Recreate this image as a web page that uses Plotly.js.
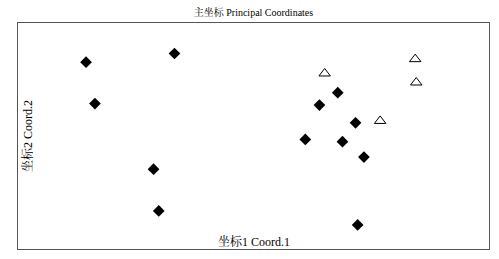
<!DOCTYPE html>
<html>
<head>
<meta charset="utf-8">
<script src="https://cdn.plot.ly/plotly-3.0.1.min.js"></script>
<style>html,body{margin:0;padding:0;background:#fff;}#chart{width:499px;height:259px;}</style>
</head>
<body>
<div id="chart"></div>
<script>
// Group A (filled diamonds)
const groupA_x = [-0.320, -0.151, -0.303, -0.191, -0.181, 0.161, 0.126, 0.195, 0.099, 0.170, 0.211, 0.199];
const groupA_y = [0.196, 0.219, 0.086, -0.088, -0.199, 0.115, 0.082, 0.035, -0.009, -0.015, -0.056, -0.236];
// Group B (open triangles)
const groupB_x = [0.136, 0.309, 0.311, 0.242];
const groupB_y = [0.166, 0.204, 0.142, 0.040];

const titleText = '主坐标 Principal Coordinates';
const xTitle = '坐标1 Coord.1';
const yTitle = '坐标2 Coord.2';

const fontFam = '"Liberation Serif", "Noto Serif CJK SC", "Noto Sans CJK SC", serif';

const traces = [
  {x: groupA_x, y: groupA_y, type: 'scatter', mode: 'markers',
   marker: {symbol: 'diamond', size: 9, color: '#000'}},
  {x: groupB_x, y: groupB_y, type: 'scatter', mode: 'markers',
   marker: {symbol: 'triangle-up-open', size: 10, color: '#000', line: {width: 1, color: '#000'}}}
];

const axisCommon = {showgrid: false, zeroline: false, showticklabels: false, ticks: '',
  showline: true, mirror: true, linecolor: '#555', linewidth: 1.2};

const layout = {
  width: 499, height: 259,
  margin: {l: 18, r: 10, t: 23, b: 10},
  paper_bgcolor: '#fff', plot_bgcolor: '#fff',
  showlegend: false,
  font: {family: fontFam, color: '#000'},
  title: {text: titleText, font: {size: 10, family: fontFam, color: '#000'}, x: 0.508, xanchor: 'center', y: 0.95, yanchor: 'middle'},
  xaxis: Object.assign({range: [-0.45, 0.45]}, axisCommon),
  yaxis: Object.assign({range: [-0.3, 0.3]}, axisCommon),
  annotations: [
    {text: xTitle, xref: 'paper', yref: 'paper', x: 0.5, y: 0.0, yshift: 8, xanchor: 'center', yanchor: 'middle',
     showarrow: false, font: {size: 12, family: fontFam, color: '#000'}},
    {text: yTitle, xref: 'paper', yref: 'paper', x: 0.0, y: 0.5, xshift: 9, xanchor: 'center', yanchor: 'middle',
     textangle: -90, showarrow: false, font: {size: 12, family: fontFam, color: '#000'}}
  ]
};

Plotly.newPlot('chart', traces, layout, {staticPlot: true, displayModeBar: false});
</script>
</body>
</html>
